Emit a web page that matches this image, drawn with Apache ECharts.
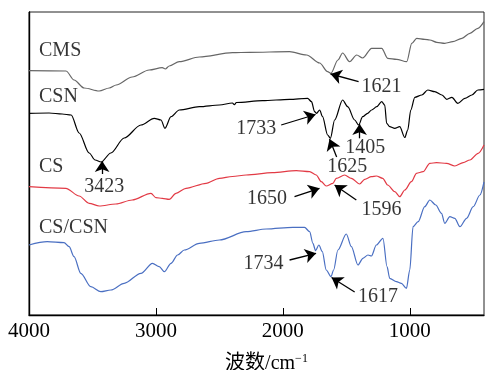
<!DOCTYPE html>
<html><head><meta charset="utf-8">
<script src="https://cdn.jsdelivr.net/npm/echarts@6/dist/echarts.min.js"></script>
<style>html,body{margin:0;padding:0;background:#fff}#c{width:485px;height:370px}</style>
</head><body><div id="c"></div>
<script>
// x: wavenumber (cm-1), y: offset transmittance (a.u.)
const xTicks = [1000, 2000, 3000, 4000];
const seriesNames = ['CMS', 'CSN', 'CS', 'CS/CSN'];
const seriesColors = ['#666666', '#000000', '#e23a45', '#4a6fc2'];

const cms = [[4000,244.3],[3708,244],[3645,235],[3566,227],[3447,224],[3368,227],[3313,230],[3187,238],[3053,245],[2950,247.3],[2926,246],[2895,249],[2816,253.3],[2658,258],[2397,262.3],[2263,262.7],[1947,263.3],[1813,260],[1710,252],[1647,243.3],[1621,241.7],[1566,255],[1529,262],[1474,253.3],[1418,260],[1371,257],[1300,266.7],[1221,266.7],[1174,256.7],[1103,255.7],[1024,253.3],[984,271.7],[945,276.7],[882,275.7],[842,275],[787,272.7],[724,271.7],[661,273.3],[589,276.7],[526,281.7],[463,286.7],[415,293.3]];

const csn = [[4000,201.7],[3842,202],[3739,201],[3668,200],[3605,182],[3526,162],[3479,155],[3432,153],[3355,162],[3250,177],[3118,190],[3013,196.7],[2960,195],[2929,186.7],[2881,198.3],[2816,205],[2658,208.3],[2500,210],[2397,212],[2382,210.3],[2366,212.5],[2160,214.3],[1947,215.7],[1805,216.7],[1774,213.3],[1750,203.3],[1734,201.7],[1710,205],[1687,198.3],[1647,180],[1625,176.7],[1592,195],[1529,215],[1489,208.3],[1434,195],[1403,190],[1371,198.3],[1332,201.7],[1300,205],[1260,208.3],[1221,213.3],[1197,210],[1182,191.7],[1158,188.3],[1118,186.7],[1079,188.3],[1039,177.5],[1016,185],[992,205],[960,217.7],[905,220],[858,225],[803,223.3],[747,220],[708,215.7],[668,217.7],[621,211.7],[566,216.7],[511,220],[463,225],[415,225.7]];

const cs = [[4000,128.3],[3710,126.7],[3605,119],[3526,111.7],[3447,109],[3316,111],[3187,115],[3039,121.7],[3000,117.3],[2950,116.7],[2895,115.7],[2842,121.7],[2763,126.7],[2605,131.7],[2500,136.7],[2397,138.5],[2289,140],[2082,142.3],[1894,144.3],[1789,143.3],[1737,140],[1697,133.3],[1658,129],[1605,131.7],[1579,136.7],[1513,140],[1460,136.7],[1395,131],[1355,135.7],[1302,138.3],[1263,139],[1213,136.7],[1174,130],[1118,123.3],[1079,118.3],[1039,125],[987,133.3],[947,141.7],[895,143.3],[842,151.7],[789,152.3],[710,151.7],[645,149],[579,152.3],[526,155],[461,161.7],[415,170]];

const cscsn = [[4000,70],[3856,73.3],[3724,72.3],[3684,68.3],[3645,58.3],[3592,41.7],[3513,28.3],[3434,23.3],[3355,25],[3250,31.7],[3118,41.7],[3027,51.7],[2974,48.3],[2934,43.3],[2881,51.7],[2829,60],[2776,65],[2658,71.7],[2500,75],[2289,83.3],[2131,86],[1921,87.7],[1829,87.7],[1789,83.3],[1763,71.7],[1742,64.3],[1716,70],[1689,63.3],[1658,45],[1621,38.3],[1600,45],[1566,65],[1500,81],[1460,68.3],[1408,50],[1369,56.7],[1329,60],[1302,59],[1263,70],[1211,76.7],[1179,48.3],[1158,36.7],[1105,33.3],[1066,31.7],[1026,26.7],[1000,45],[974,88.3],[934,93.3],[882,108.3],[842,115],[795,110],[750,101.7],[724,91.7],[684,98.3],[645,96.7],[605,88.3],[552,96.7],[500,108.3],[447,120],[415,133]];

const seriesData = [cms, csn, cs, cscsn];
const nameLabelPos = [[3921,265],[3921,219.5],[3921,149],[3921,88.5]];

// peak annotations: label, arrow tip, arrow start, label centre (data coords)
const peakText = ['3423','1621','1733','1625','1405','1650','1596','1734','1617'];
const arrowTip = [[3424,154],[1624,241],[1742,200.5],[1632,176],[1395,191],[1711,126.7],[1592,130],[1738,61.7],[1616,37.5]];
const arrowTail = [[3424,141],[1403,233.3],[2013,190],[1576,158],[1395,176.7],[1908,118.3],[1421,115],[1947,55],[1434,23]];
const textPos = [[3408,129.5],[1223,229.5],[2210,187.5],[1493,149],[1351,168.3],[2125,117.5],[1223,106],[2153,52.5],[1250,19]];

const FONT = '"Liberation Serif", "Times New Roman", "Noto Sans CJK SC", serif';

const chart = echarts.init(document.getElementById('c'), null, {renderer: 'canvas'});

const series = seriesData.map((d, i) => ({
  type: 'line', name: seriesNames[i], data: d, showSymbol: false, symbol: 'none',
  smooth: 0.3, smoothMonotone: 'x',
  lineStyle: {color: seriesColors[i], width: 1.2}, z: 3, silent: true
}));

series.push({
  type: 'scatter', name: 'names', symbolSize: 0, silent: true,
  data: nameLabelPos.map((p, i) => ({name: seriesNames[i], value: p})),
  label: {show: true, position: 'right', distance: 0, formatter: '{b}', color: '#000',
    fontFamily: FONT, fontSize: 20, offset: [0, 1]}
});

series.push({
  type: 'scatter', name: 'peaks', symbolSize: 0, silent: true,
  data: textPos.map((p, i) => ({name: peakText[i], value: p})),
  label: {show: true, position: 'inside', formatter: '{b}', color: '#000',
    fontFamily: FONT, fontSize: 20, align: 'center', verticalAlign: 'middle', offset: [0, 1]},
  markLine: {
    silent: true, animation: false, symbol: ['none', 'arrow'], symbolSize: 11,
    label: {show: false},
    lineStyle: {color: '#000', width: 1.3, type: 'solid'},
    data: arrowTip.map((t, i) => [{coord: arrowTail[i]}, {coord: t}])
  }
});

chart.setOption({
  animation: false,
  backgroundColor: '#fff',
  grid: {left: 29, right: 1, top: 12, bottom: 55, outerBoundsMode: 'none', containLabel: false,
    show: true, borderColor: '#222', borderWidth: 1},
  xAxis: {
    type: 'value', inverse: true, min: 415, max: 4000,
    axisLine: {show: true, lineStyle: {color: '#000', width: 1.4}},
    axisTick: {show: true, inside: true, length: 7, customValues: xTicks, lineStyle: {color: '#000', width: 1}},
    axisLabel: {customValues: xTicks, formatter: v => String(v), color: '#000', fontFamily: FONT, fontSize: 21, margin: 6},
    splitLine: {show: false},
    name: '{a|波数/cm}{s|−1}', nameLocation: 'middle', nameGap: 38,
    nameTextStyle: {padding: [0, 0, 0, 20], rich: {
      a: {fontFamily: FONT, fontSize: 20, color: '#000'},
      s: {fontFamily: FONT, fontSize: 12, color: '#000', verticalAlign: 'top', padding: [0, 0, 10, 0]}
    }}
  },
  yAxis: {
    type: 'value', min: 0, max: 303,
    axisLine: {show: true, lineStyle: {color: '#000', width: 1.4}},
    axisTick: {show: false}, axisLabel: {show: false}, splitLine: {show: false}
  },
  series: series
});
</script>
</body></html>
